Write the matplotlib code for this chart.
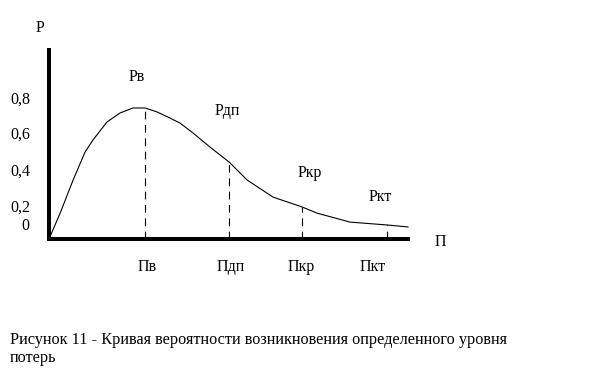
import numpy as np
import matplotlib.pyplot as plt

plt.rcParams['font.family'] = ['Liberation Serif', 'DejaVu Serif']

# Curve of probability P against loss level П
loss = [0.0, 0.31, 0.67, 1.0, 1.22, 1.61, 1.97, 2.33, 2.67, 3.0, 3.36, 3.64,
        4.0, 4.47, 5.0, 5.5, 6.22, 7.03, 7.44, 8.36, 9.39, 9.97]
prob = [0.0, 0.144, 0.328, 0.483, 0.55, 0.65, 0.70, 0.728, 0.728, 0.706, 0.672, 0.644,
        0.589, 0.511, 0.428, 0.328, 0.233, 0.178, 0.144, 0.094, 0.078, 0.067]

# Marked levels
level_names = ['в', 'дп', 'кр', 'кт']
level_loss = [2.67, 5.0, 7.03, 9.39]
level_prob = [0.728, 0.428, 0.178, 0.078]
loss_label_x = [2.72, 5.06, 7.0, 9.0]

# y tick labels as they stand in the drawing
ytick_text = ['0,8', '0,6', '0,4', '0,2', '0']
ytick_pos = [0.772, 0.578, 0.372, 0.172, 0.072]

fs = 11.5

fig = plt.figure(figsize=(6.14, 3.74), dpi=100)
ax = fig.add_axes([0, 0, 1, 1])
ax.set_xlim(-1.361, 15.69)
ax.set_ylim(-0.75, 1.328)
ax.axis('off')

# Axes drawn as thick lines
ax.plot([0, 0], [-0.011, 1.061], color='black', lw=2.9, solid_capstyle='butt')
ax.plot([-0.05, 10.03], [0, 0], color='black', lw=2.9, solid_capstyle='butt')

# The curve
ax.plot(loss, prob, color='black', lw=0.8)

# Dashed drop lines and labels
for name, x, y, lx in zip(level_names, level_loss, level_prob, loss_label_x):
    ax.plot([x, x], [0, y], color='black', lw=0.8, linestyle=(0, (7, 5)))
    ax.text(lx, -0.156, 'П' + name, ha='center', va='center', fontsize=fs)

label_pos = [(2.44, 0.9), (4.94, 0.711), (7.24, 0.367), (9.19, 0.233)]
for name, (x, y) in zip(level_names, label_pos):
    ax.text(x, y, 'P' + name, ha='center', va='center', fontsize=fs)

for t, y in zip(ytick_text, ytick_pos):
    ax.text(-1.08 if t != '0' else -0.78, y, t, ha='left', va='center', fontsize=fs)

ax.text(-0.25, 1.172, 'P', ha='center', va='center', fontsize=fs)
ax.text(10.86, -0.017, 'П', ha='center', va='center', fontsize=fs)

# Caption
fig.text(10 / 614, 1 - 340 / 374,
         'Рисунок 11 - Кривая вероятности возникновения определенного уровня',
         ha='left', va='center', fontsize=11.7)
fig.text(10 / 614, 1 - 358 / 374, 'потерь', ha='left', va='center', fontsize=11.7)

fig.savefig('out.png', dpi=100, facecolor='white')
